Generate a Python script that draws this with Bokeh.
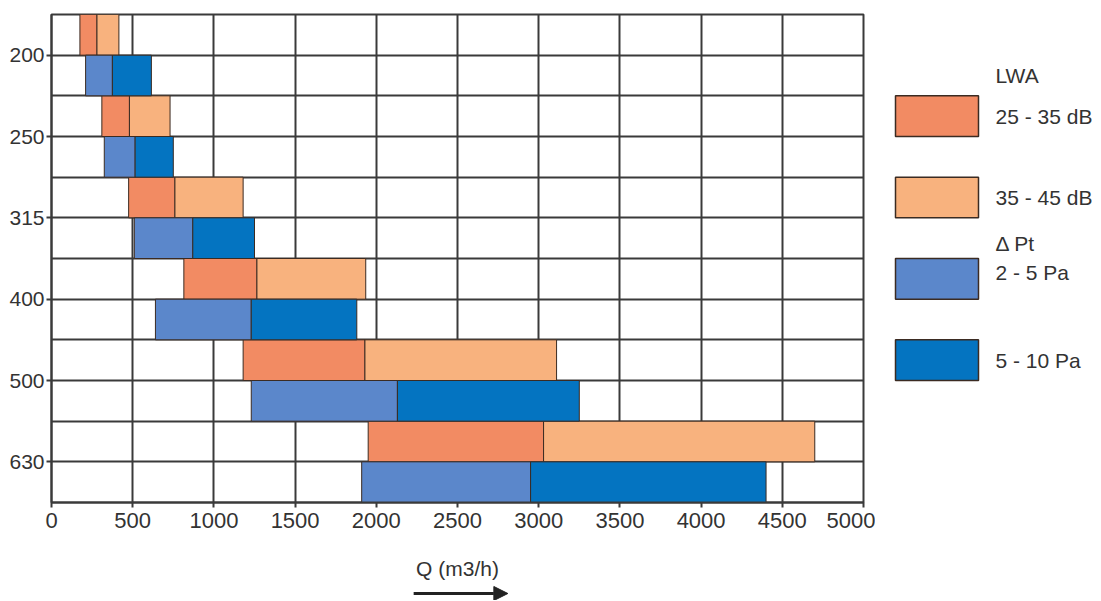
from bokeh.plotting import figure
from bokeh.models import Range1d, FixedTicker, Arrow, NormalHead, ColumnDataSource
from bokeh.layouts import row, column
from bokeh.core.properties import value
from bokeh.embed import file_html
from bokeh.resources import INLINE

# ---- data ----
categories = ["200", "250", "315", "400", "500", "630"]
lwa_start = [175, 310, 475, 815, 1180, 1950]     # start of 25-35 dB band
lwa_mid = [280, 480, 760, 1265, 1930, 3030]      # 25-35 dB / 35-45 dB boundary
lwa_end = [415, 730, 1180, 1935, 3110, 4700]     # end of 35-45 dB band
pt_start = [210, 325, 510, 640, 1230, 1910]      # start of 2-5 Pa band
pt_mid = [375, 515, 870, 1230, 2130, 2950]       # 2-5 Pa / 5-10 Pa boundary
pt_end = [615, 750, 1250, 1880, 3250, 4400]      # end of 5-10 Pa band
x_ticks = [0, 500, 1000, 1500, 2000, 2500, 3000, 3500, 4000, 4500, 5000]

legend_labels = ["25 - 35 dB", "35 - 45 dB", "2 - 5 Pa", "5 - 10 Pa"]
legend_headers = ["LWA", "\u0394 Pt"]

C_LWA1 = "#F28B63"
C_LWA2 = "#F8B27E"
C_PT1 = "#5B87CB"
C_PT2 = "#0474C1"
colors = [C_LWA1, C_LWA2, C_PT1, C_PT2]
GRID = "#3a3a3a"
FONT = "Liberation Sans"

n = len(categories)
nrows = 2 * n
y_orange = [nrows - 2 * i - 0.5 for i in range(n)]
y_blue = [nrows - 2 * i - 1.5 for i in range(n)]
y_label = [nrows - 2 * i - 1 for i in range(n)]

src = ColumnDataSource(dict(
    y_o=y_orange, y_b=y_blue,
    lwa_start=lwa_start, lwa_mid=lwa_mid, lwa_end=lwa_end,
    pt_start=pt_start, pt_mid=pt_mid, pt_end=pt_end,
))

p = figure(
    x_range=Range1d(0, 5000), y_range=Range1d(0, nrows),
    frame_width=812, frame_height=488,
    min_border_left=51, min_border_top=14, min_border_right=12, min_border_bottom=80,
    output_backend="svg", toolbar_location=None,
)
p.background_fill_color = "white"
p.outline_line_color = GRID
p.outline_line_width = 2

bar_kw = dict(height=1, line_color="#3b2b22", line_width=1, source=src)
p.hbar(y="y_o", left="lwa_start", right="lwa_mid", fill_color=C_LWA1, **bar_kw)
p.hbar(y="y_o", left="lwa_mid", right="lwa_end", fill_color=C_LWA2, **bar_kw)
p.hbar(y="y_b", left="pt_start", right="pt_mid", fill_color=C_PT1, **bar_kw)
p.hbar(y="y_b", left="pt_mid", right="pt_end", fill_color=C_PT2, **bar_kw)

# axes
p.xaxis.ticker = FixedTicker(ticks=x_ticks)
p.xaxis.axis_label = "Q (m3/h)"
p.xaxis.axis_label_text_font = FONT
p.xaxis.axis_label_text_font_style = "normal"
p.xaxis.axis_label_text_font_size = "21px"
p.xaxis.axis_label_text_color = "#333333"
p.xaxis.axis_label_standoff = 26
p.xaxis.major_label_text_font = FONT
p.xaxis.major_label_text_font_size = "22px"
p.xaxis.major_label_text_color = "#333333"
p.xaxis.major_label_standoff = 5

p.yaxis.ticker = FixedTicker(ticks=y_label)
p.yaxis.major_label_overrides = {y: c for y, c in zip(y_label, categories)}
p.yaxis.major_label_text_font = FONT
p.yaxis.major_label_text_font_size = "21px"
p.yaxis.major_label_text_color = "#333333"
p.yaxis.major_label_standoff = 2

for ax in (p.xaxis, p.yaxis):
    ax.axis_line_color = GRID
    ax.axis_line_width = 2
    ax.major_tick_line_color = GRID
    ax.major_tick_line_width = 2
    ax.major_tick_out = 5
    ax.major_tick_in = 0
    ax.minor_tick_line_color = None

# grids
p.xgrid.ticker = FixedTicker(ticks=x_ticks)
p.ygrid.ticker = FixedTicker(ticks=list(range(nrows + 1)))
for g in (p.xgrid, p.ygrid):
    g.grid_line_color = GRID
    g.grid_line_width = 2
    g.grid_line_alpha = 1.0

# ---- strip under the axis title holding the direction arrow ----
ar = figure(
    x_range=p.x_range, y_range=Range1d(0, 18),
    frame_width=812, frame_height=18,
    min_border_left=51, min_border_top=0, min_border_right=12, min_border_bottom=0,
    x_axis_type=None, y_axis_type=None,
    output_backend="svg", toolbar_location=None,
)
ar.outline_line_color = None
ar.grid.visible = False
ar.add_layout(Arrow(
    x_start=2230, x_end=2810, y_start=7, y_end=7,
    line_color="#222222", line_width=3,
    end=NormalHead(size=14, fill_color="#222222", line_color="#222222"),
))

# ---- legend panel ----
lg = figure(
    x_range=Range1d(0, 218), y_range=Range1d(0, nrows),
    frame_width=218, frame_height=488,
    min_border_left=0, min_border_top=14, min_border_right=0, min_border_bottom=80,
    x_axis_type=None, y_axis_type=None,
    output_backend="svg", toolbar_location=None,
)
lg.outline_line_color = None
lg.grid.visible = False

box_bottom = [9, 7, 5, 3]
lg.quad(left=20, right=103, bottom=box_bottom, top=[b + 1 for b in box_bottom],
        fill_color=colors, line_color="#3b2b22", line_width=1.5)

label_y = [9.5, 7.5, 5.65, 3.5]
lg.text(x=120, y=label_y, text=legend_labels,
        text_font=value(FONT), text_font_size="21px", text_color="#333333",
        text_baseline="middle", text_align="left")
lg.text(x=120, y=[10.5, 6.37], text=legend_headers,
        text_font=value(FONT), text_font_size="21px", text_color="#333333",
        text_baseline="middle", text_align="left")

layout = column(row(p, lg), ar)
open("out.html", "w").write(file_html(layout, INLINE))
